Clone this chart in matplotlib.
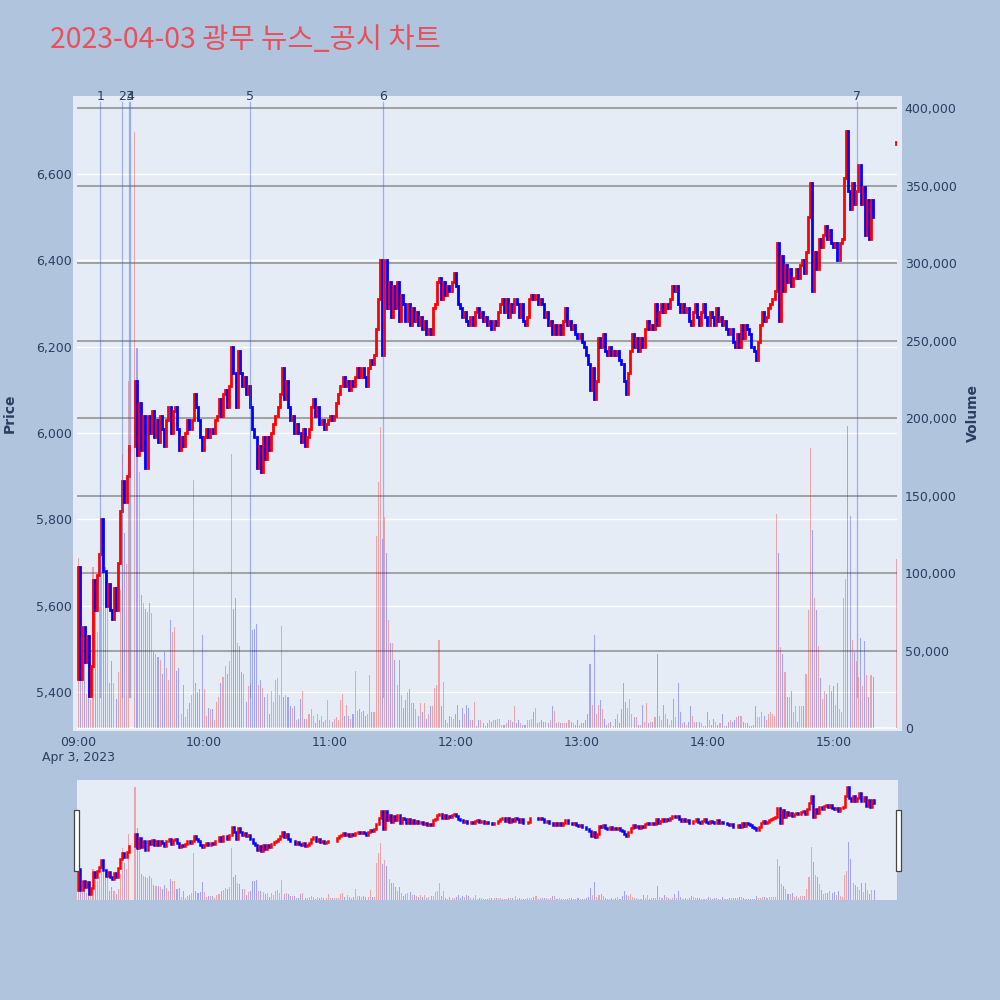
#%%
import numpy as np
import pandas as pd
import matplotlib
matplotlib.use('Agg')
import matplotlib.pyplot as plt
import matplotlib.dates as mdates
from matplotlib.patches import Rectangle
from matplotlib.ticker import FuncFormatter

#%% data (1 minute candles)
day = '2023-04-03'
title = '2023-04-03 광무 뉴스_공시 차트'
halt_minutes = ['09:25', '09:26']      # no trades (VI)
first_open = 5430
auction_time = '15:30'
auction_price = 6670
auction_volume = 109000

closes = [
    5690, 5430, 5550, 5470, 5530, 5390, 5460, 5660, 5590, 5670,
    5720, 5800, 5680, 5600, 5650, 5590, 5570, 5640, 5590, 5700,
    5820, 5890, 5840, 5900, 5970,
    6120, 5950, 6070,
    5960, 6040, 5920, 6040, 6000, 6050, 5990, 6030, 5980, 6040,
    6010, 5970, 6030, 6060, 6000, 6050, 6060, 6010, 5960, 5990,
    5970, 6000, 6030, 6010, 6030, 6090, 6060, 6030, 5990, 5960,
    5990, 6010, 5990, 6010, 6000, 6030, 6040, 6080, 6040, 6090,
    6100, 6060, 6110, 6200, 6140, 6060, 6190, 6140, 6110, 6130,
    6090, 6110, 6060, 6010, 5990, 5920, 5970, 5910, 5990, 5940,
    5990, 5960, 6000, 6020, 6040, 6060, 6090, 6150, 6080, 6120,
    6060, 6030, 6040, 6000, 6020, 6000, 5980, 6010, 5970, 5990,
    6010, 6060, 6080, 6040, 6060, 6020, 6030, 6010, 6020, 6030,
    6040, 6030, 6040, 6070, 6090, 6110, 6130, 6110, 6120, 6100,
    6120, 6110, 6130, 6150, 6130, 6150, 6130, 6110, 6150, 6170,
    6160, 6180, 6240, 6310, 6400, 6180, 6400, 6290, 6350, 6270,
    6340, 6290, 6350, 6260, 6320, 6300, 6260, 6300, 6250, 6290,
    6260, 6280, 6250, 6270, 6240, 6260, 6230, 6240, 6230, 6290,
    6300, 6350, 6360, 6310, 6350, 6320, 6340, 6330, 6350, 6370,
    6340, 6300, 6290, 6270, 6280, 6260, 6250, 6270, 6250, 6280,
    6290, 6270, 6280, 6260, 6270, 6250, 6260, 6240, 6260, 6250,
    6280, 6300, 6310, 6280, 6310, 6270, 6300, 6280, 6310, 6300,
    6270, 6300, 6260, 6250, 6270, 6310, 6320, 6310, 6320, 6300,
    6310, 6300, 6270, 6280, 6250, 6260, 6230, 6250, 6230, 6250,
    6230, 6260, 6290, 6250, 6260, 6240, 6250, 6230, 6220, 6230,
    6210, 6200, 6180, 6160, 6100, 6150, 6080, 6120, 6220, 6200,
    6230, 6190, 6180, 6200, 6180, 6190, 6180, 6190, 6170, 6160,
    6120, 6090, 6140, 6190, 6230, 6200, 6220, 6190, 6220, 6200,
    6240, 6260, 6240, 6250, 6240, 6300, 6250, 6280, 6300, 6280,
    6300, 6290, 6310, 6340, 6330, 6340, 6300, 6280, 6300, 6280,
    6290, 6260, 6250, 6280, 6300, 6270, 6250, 6280, 6300, 6270,
    6250, 6280, 6270, 6250, 6290, 6260, 6270, 6250, 6260, 6240,
    6230, 6240, 6210, 6200, 6230, 6200, 6250, 6220, 6250, 6240,
    6230, 6200, 6190, 6170, 6210, 6250, 6280, 6260, 6270, 6290,
    6300, 6310, 6330, 6440, 6260, 6410, 6330, 6390, 6350, 6380,
    6340, 6360, 6380, 6360, 6390, 6400, 6370, 6420, 6500, 6580,
    6330, 6420, 6380, 6450, 6430, 6460, 6480, 6450, 6470, 6440,
    6430, 6440, 6400, 6440, 6450, 6590, 6700, 6560, 6520, 6580,
    6530, 6560, 6620, 6530, 6570, 6460, 6540, 6450, 6540, 6500,
]

# volume in thousands of shares
volumes_k = [
    110, 31, 65, 44, 22, 59, 18, 104, 75, 62,
    78, 118, 132, 104, 78, 29, 43, 29, 19, 36,
    89, 177, 126, 106, 224,
    385, 245, 165,
    86, 81, 77, 75, 81, 74, 49, 48, 46, 44,
    35, 49, 39, 31, 70, 62, 65, 37, 39, 9,
    28, 7, 12, 16, 21, 160, 29, 23, 25, 60,
    25, 8, 13, 12, 12, 5, 17, 20, 29, 33,
    40, 35, 43, 177, 77, 84, 55, 53, 36, 35,
    17, 27, 28, 63, 64, 67, 28, 31, 26, 20,
    22, 9, 24, 17, 31, 32, 21, 66, 20, 21,
    20, 14, 13, 14, 5, 6, 19, 24, 6, 6,
    9, 12, 8, 3, 9, 5, 8, 4, 5, 18,
    5, 4, 6, 7, 5, 18, 22, 8, 15, 8,
    6, 9, 37, 11, 12, 10, 11, 8, 9, 34,
    10, 10, 124, 159, 194, 122, 136, 113, 70, 55,
    55, 44, 28, 44, 21, 13, 18, 23, 25, 16,
    16, 12, 8, 16, 10, 16, 6, 9, 14, 14,
    26, 28, 57, 14, 30, 5, 3, 8, 7, 6,
    9, 15, 5, 13, 9, 15, 13, 5, 5, 17,
    1, 5, 5, 3, 1, 3, 5, 4, 5, 5,
    6, 6, 2, 2, 3, 5, 5, 4, 14, 3,
    5, 3, 2, 2, 5, 5, 6, 10, 13, 3,
    4, 5, 4, 4, 3, 5, 14, 11, 3, 4,
    3, 3, 3, 3, 5, 4, 3, 2, 5, 2,
    3, 3, 5, 9, 41, 15, 60, 9, 15, 18,
    12, 6, 2, 3, 4, 1, 6, 9, 3, 12,
    29, 17, 13, 19, 9, 7, 7, 2, 2, 15,
    4, 16, 3, 4, 4, 7, 48, 8, 5, 15,
    9, 6, 2, 5, 19, 7, 29, 10, 3, 4,
    2, 4, 14, 8, 4, 4, 4, 3, 1, 1,
    10, 5, 2, 6, 4, 2, 3, 9, 1, 1,
    4, 5, 4, 5, 7, 8, 8, 4, 3, 3,
    1, 1, 2, 14, 7, 7, 10, 8, 5, 9,
    10, 9, 8, 138, 113, 52, 48, 36, 20, 20,
    24, 10, 14, 4, 14, 14, 14, 35, 76, 181,
    128, 84, 76, 53, 32, 19, 24, 22, 28, 24,
    27, 15, 29, 12, 10, 84, 96, 195, 137, 57,
    49, 43, 33, 58, 27, 56, 34, 20, 34, 33,
]

# news / disclosure markers
event_labels = ['1', '2', '3', '4', '5', '6', '7']
event_times = ['09:10:30', '09:21:00', '09:24:10', '09:24:50', '10:22:00', '11:25:20', '15:11:10']

price_ticks = [5400, 5600, 5800, 6000, 6200, 6400, 6600]
volume_ticks = [0, 50000, 100000, 150000, 200000, 250000, 300000, 350000, 400000]
date_label = 'Apr 3, 2023'

#%% build series
minutes = pd.date_range(f'{day} 09:00', f'{day} 15:19', freq='min')
minutes = minutes.drop(pd.to_datetime([f'{day} {h}' for h in halt_minutes]))
times = minutes.append(pd.DatetimeIndex([pd.Timestamp(f'{day} {auction_time}')]))

close_all = np.array(closes + [auction_price], dtype=float)
open_all = np.array([first_open] + closes[:-1] + [auction_price], dtype=float)
vol_all = np.array(volumes_k, dtype=float) * 1000
vol_all = np.append(vol_all, auction_volume)
assert len(times) == len(close_all) == len(vol_all)

t = mdates.date2num(times.to_pydatetime())
t0 = mdates.date2num(pd.Timestamp(f'{day} 09:00').to_pydatetime())
one_min = 1 / 1440
xlim = (t0 - 0.62 * one_min, t0 + 390.4 * one_min)
price_lim = (5312, 6781)
vol_lim = (-1300, 408000)

RED, BLUE = '#ff0000', '#0000ff'
up = close_all >= open_all
colors = np.where(up, RED, BLUE)
lo = np.minimum(open_all, close_all)
hi = np.maximum(np.maximum(open_all, close_all), lo + 4)   # flat candle still visible

PAPER = '#b0c4de'
PLOT_BG = '#e5ecf6'
TXT = '#2a3f5f'

#%% figure
fig = plt.figure(figsize=(10, 10), dpi=100, facecolor=PAPER)
fig.add_artist(Rectangle((0.073, 0.269), 0.829, 0.635, transform=fig.transFigure,
                         facecolor=PLOT_BG, edgecolor='none', zorder=-1))

rect = [0.077, 0.270, 0.820, 0.634]
ax_bg = fig.add_axes(rect, zorder=1)
axv = fig.add_axes(rect, zorder=2)
ax = fig.add_axes(rect, zorder=3)

for a in (ax_bg, axv, ax):
    a.patch.set_visible(False)
    for s in a.spines.values():
        s.set_visible(False)
    a.set_xlim(xlim)

# price grid + left ticks
ax_bg.set_ylim(price_lim)
ax_bg.set_yticks(price_ticks)
ax_bg.yaxis.set_major_formatter(FuncFormatter(lambda v, p: f'{v:,.0f}'))
ax_bg.grid(axis='y', color='white', lw=1.0)
ax_bg.tick_params(axis='y', length=0, pad=3.6, labelsize=9, labelcolor=TXT)
ax_bg.xaxis.set_major_locator(mdates.HourLocator())
ax_bg.xaxis.set_major_formatter(mdates.DateFormatter('%H:%M'))
ax_bg.tick_params(axis='x', length=0, pad=4.5, labelsize=9, labelcolor=TXT)

# volume
axv.set_ylim(vol_lim)
axv.yaxis.tick_right()
axv.set_yticks(volume_ticks)
axv.yaxis.set_major_formatter(FuncFormatter(lambda v, p: f'{v:,.0f}'))
axv.tick_params(axis='y', length=0, pad=5.5, labelsize=9, labelcolor=TXT)
axv.set_xticks([])
for v in volume_ticks:
    axv.axhline(v, color='white' if v == 0 else '#8c8c8c', lw=1.1, zorder=0)
axv.bar(t, vol_all, width=0.5 * one_min, color=colors, alpha=0.3, zorder=1)

# candles
ax.set_ylim(price_lim)
ax.set_xticks([])
ax.set_yticks([])
lc = ax.vlines(t, lo, hi, colors=colors, lw=2.0, zorder=2)
lc.set_capstyle('projecting')

# event markers
for lbl, et in zip(event_labels, event_times):
    x = mdates.date2num(pd.Timestamp(f'{day} {et}').to_pydatetime())
    ax.axvline(x, ymin=0.052, ymax=0.99, color='royalblue', alpha=0.45, lw=0.9, zorder=4)
    ax.text(x, 1.0, lbl, transform=ax.get_xaxis_transform(), ha='center', va='center',
            fontsize=9, color=TXT, zorder=5)

fig.text(0.078, 0.2425, date_label, ha='center', va='center', fontsize=9, color=TXT)
fig.text(0.010, 0.587, 'Price', rotation=90, ha='center', va='center',
         fontsize=10, fontweight='bold', color=TXT)
fig.text(0.973, 0.587, 'Volume', rotation=90, ha='center', va='center',
         fontsize=10, fontweight='bold', color=TXT)
fig.text(0.0505, 0.96, title, ha='left', va='center', fontsize=20.5, color='#e8505b',
         family=['Noto Sans CJK KR', 'DejaVu Sans'])

#%% range slider
srect = [0.077, 0.100, 0.821, 0.120]
axs = fig.add_axes(srect, zorder=1)
axs_p = fig.add_axes(srect, zorder=2)
axs.set_facecolor(PLOT_BG)
axs_p.patch.set_visible(False)
for a in (axs, axs_p):
    for s in a.spines.values():
        s.set_visible(False)
    a.set_xlim(xlim)
    a.set_xticks([])
    a.set_yticks([])
axs.set_ylim(vol_lim)
axs.bar(t, vol_all, width=0.5 * one_min, color=colors, alpha=0.3)
axs_p.set_ylim(price_lim)
lcs = axs_p.vlines(t, lo, hi, colors=colors, lw=1.8)
lcs.set_capstyle('projecting')

for hx in (0.0743, 0.8963):
    fig.add_artist(Rectangle((hx, 0.1293), 0.0044, 0.0607, transform=fig.transFigure,
                             facecolor='white', edgecolor='#444444', lw=0.9, zorder=10))

fig.savefig('out.png', dpi=100, facecolor=PAPER)
